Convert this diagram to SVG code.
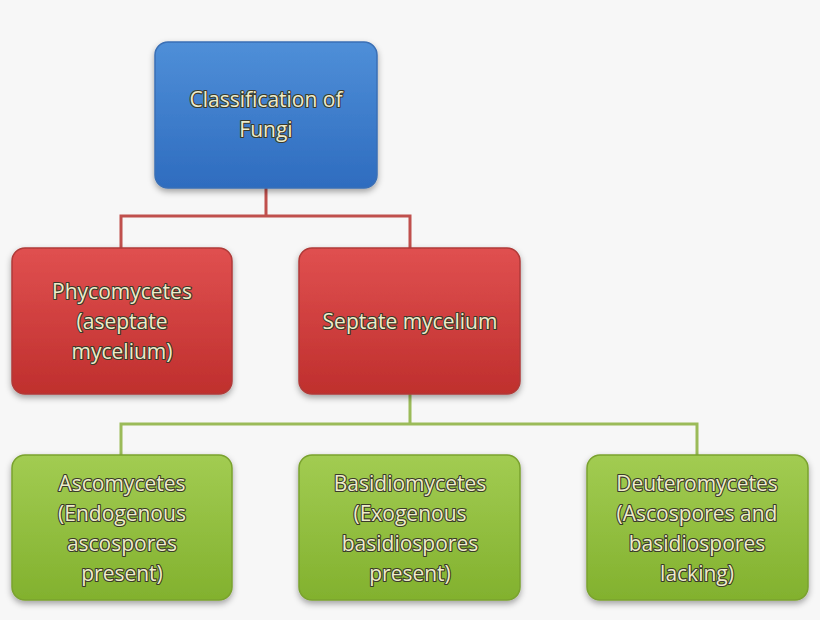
<svg xmlns="http://www.w3.org/2000/svg" width="820" height="620" viewBox="0 0 820 620">
<defs>
<linearGradient id="gb" x1="0" y1="0" x2="0" y2="1"><stop offset="0" stop-color="#4f8fd8"/><stop offset="1" stop-color="#2e6cbf"/></linearGradient>
<linearGradient id="gr" x1="0" y1="0" x2="0" y2="1"><stop offset="0" stop-color="#e05050"/><stop offset="1" stop-color="#bf2f2d"/></linearGradient>
<linearGradient id="gg" x1="0" y1="0" x2="0" y2="1"><stop offset="0" stop-color="#a2cc52"/><stop offset="1" stop-color="#82b12e"/></linearGradient>
<filter id="sh" x="-10%" y="-10%" width="120%" height="125%"><feDropShadow dx="0" dy="3" stdDeviation="3" flood-color="#000" flood-opacity="0.35"/></filter>
</defs>
<style>
.t{font-family:"Open Sans","Liberation Sans",sans-serif;font-size:21px;fill:#eeeccb;stroke:#3a3a2a;stroke-width:2.2px;paint-order:stroke;stroke-linejoin:round;text-anchor:middle}
.b{stroke-width:1.5;filter:url(#sh)}
</style>
<rect width="820" height="620" fill="#f7f7f7"/>
<g id="connectors" fill="none" stroke-width="3">
<path d="M266 188V216M121 248V216H410V248" stroke="#c0504d"/>
<path d="M410 394V424M121 455V424H697V455" stroke="#9bbb59"/>
</g>
<g id="n0"><rect class="b" x="155" y="42" width="222" height="146" rx="13" fill="url(#gb)" stroke="#3a6fb5"/>
<text class="t"><tspan x="266" y="107">Classification of</tspan><tspan x="266" y="137">Fungi</tspan></text></g>
<g id="n1"><rect class="b" x="12" y="248" width="220" height="146" rx="13" fill="url(#gr)" stroke="#b03a38"/>
<text class="t"><tspan x="122" y="299">Phycomycetes</tspan><tspan x="122" y="329">(aseptate</tspan><tspan x="122" y="359">mycelium)</tspan></text></g>
<g id="n2"><rect class="b" x="299" y="248" width="221" height="146" rx="13" fill="url(#gr)" stroke="#b03a38"/>
<text class="t"><tspan x="410" y="329">Septate mycelium</tspan></text></g>
<g id="n3"><rect class="b" x="12" y="455" width="220" height="145" rx="13" fill="url(#gg)" stroke="#7aa22e"/>
<text class="t"><tspan x="122" y="491">Ascomycetes</tspan><tspan x="122" y="521">(Endogenous</tspan><tspan x="122" y="551">ascospores</tspan><tspan x="122" y="581">present)</tspan></text></g>
<g id="n4"><rect class="b" x="299" y="455" width="221" height="145" rx="13" fill="url(#gg)" stroke="#7aa22e"/>
<text class="t"><tspan x="410" y="491">Basidiomycetes</tspan><tspan x="410" y="521">(Exogenous</tspan><tspan x="410" y="551">basidiospores</tspan><tspan x="410" y="581">present)</tspan></text></g>
<g id="n5"><rect class="b" x="587" y="455" width="221" height="145" rx="13" fill="url(#gg)" stroke="#7aa22e"/>
<text class="t"><tspan x="697" y="491">Deuteromycetes</tspan><tspan x="697" y="521">(Ascospores and</tspan><tspan x="697" y="551">basidiospores</tspan><tspan x="697" y="581">lacking)</tspan></text></g>
</svg>
